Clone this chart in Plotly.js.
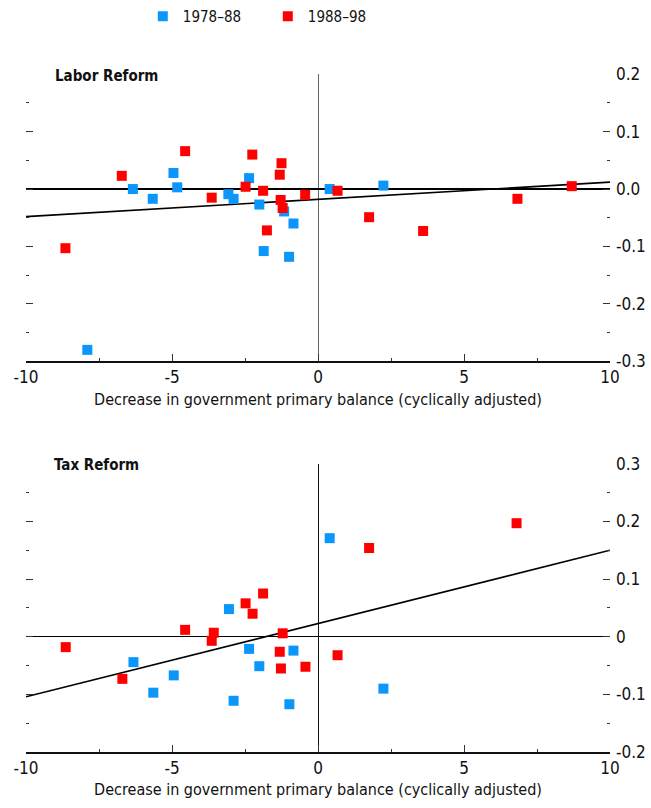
<!DOCTYPE html>
<html>
<head>
<meta charset="utf-8">
<script src="https://cdn.plot.ly/plotly-3.0.1.min.js"></script>
<style>html,body{margin:0;padding:0;background:#fff;}#chart{width:651px;height:808px;}</style>
</head>
<body>
<div id="chart"></div>
<script>
// ---- Data ----
const seriesNames = ["1978–88", "1988–98"];

// Labor Reform panel
const laborBlueX = [-7.90, -6.34, -5.66, -4.95, -4.82, -3.07, -2.89, -2.36, -2.01, -1.16, -0.84, -1.86, -0.99, 0.40, 2.24];
const laborBlueY = [-0.280, 0.000, -0.017, 0.028, 0.003, -0.009, -0.017, 0.019, -0.027, -0.039, -0.060, -0.108, -0.118, 0.000, 0.006];
const laborRedX = [-8.65, -6.72, -4.55, -3.64, -2.25, -2.48, -1.88, -1.25, -1.31, -1.28, -1.21, -1.75, -0.44, 0.67, 1.75, 3.60, 6.83, 8.69];
const laborRedY = [-0.103, 0.023, 0.066, -0.015, 0.060, 0.004, -0.003, 0.045, 0.025, -0.019, -0.033, -0.072, -0.010, -0.003, -0.049, -0.073, -0.017, 0.005];
const laborFitX = [-10, 10];
const laborFitY = [-0.048, 0.012];

// Tax Reform panel
const taxBlueX = [-6.32, -5.64, -4.94, -3.05, -2.89, -2.36, -2.01, -0.84, -0.98, 0.40, 2.24];
const taxBlueY = [-0.044, -0.097, -0.067, 0.048, -0.111, -0.021, -0.051, -0.024, -0.117, 0.171, -0.090];
const taxRedX = [-8.64, -6.70, -4.55, -3.57, -3.64, -2.48, -2.24, -1.88, -1.21, -1.31, -1.27, -0.43, 0.67, 1.75, 6.80];
const taxRedY = [-0.018, -0.073, 0.012, 0.007, -0.007, 0.058, 0.040, 0.075, 0.006, -0.026, -0.055, -0.052, -0.032, 0.154, 0.197];
const taxFitX = [-10, 10];
const taxFitY = [-0.104, 0.150];

// Tick labels
const xTickVals = [-10, -5, 0, 5, 10];
const xTickText = ["-10", "-5", "0", "5", "10"];
const yTopTickVals = [-0.3, -0.2, -0.1, 0, 0.1, 0.2];
const yTopTickText = ["-0.3", "-0.2", "-0.1", "0.0", "0.1", "0.2"];
const yBotTickVals = [-0.2, -0.1, 0, 0.1, 0.2, 0.3];
const yBotTickText = ["-0.2", "-0.1", "0", "0.1", "0.2", "0.3"];

const panelTitles = ["Labor Reform", "Tax Reform"];
const xTitle = "Decrease in government primary balance (cyclically adjusted)";

// ---- Styling ----
const FONT = "'Liberation Sans Narrow', 'Arial Narrow', 'DejaVu Sans Condensed', sans-serif";
const BLUE = "#0A96FA";
const RED = "#FF0000";

function pts(x, y, color, name, xa, ya, show) {
  return {type: "scatter", mode: "markers", x: x, y: y, name: name, xaxis: xa, yaxis: ya,
    showlegend: show, legendgroup: name,
    marker: {symbol: "square", size: 10, color: color, line: {width: 0}}, cliponaxis: false};
}
function fit(x, y, xa, ya) {
  return {type: "scatter", mode: "lines", x: x, y: y, xaxis: xa, yaxis: ya, showlegend: false,
    line: {color: "#000", width: 1.6}, hoverinfo: "skip"};
}

const data = [
  fit(laborFitX, laborFitY, "x", "y"),
  pts(laborBlueX, laborBlueY, BLUE, seriesNames[0], "x", "y", true),
  pts(laborRedX, laborRedY, RED, seriesNames[1], "x", "y", true),
  fit(taxFitX, taxFitY, "x2", "y2"),
  pts(taxBlueX, taxBlueY, BLUE, seriesNames[0], "x2", "y2", false),
  pts(taxRedX, taxRedY, RED, seriesNames[1], "x2", "y2", false)
];

function xAxis(anchor, zcolor) {
  return {
    anchor: anchor, domain: [0, 1], range: [-10, 10],
    tickmode: "array", tickvals: xTickVals, ticktext: xTickText,
    ticks: "inside", ticklen: 7, tickwidth: 1, tickcolor: "#333",
    minor: {dtick: 2.5, tick0: 0, ticks: "inside", ticklen: 3, tickcolor: "#333", showgrid: false},
    showline: true, linecolor: "#111", linewidth: 1.5,
    showgrid: false, zeroline: true, zerolinecolor: zcolor, zerolinewidth: 1,
    tickfont: {family: FONT, size: 17, color: "#111"},
    title: {text: xTitle, font: {family: FONT, size: 16, color: "#111"}, standoff: 7}
  };
}
function yAxis(anchor, domain, range, vals, text, zw) {
  return {
    anchor: anchor, domain: domain, range: range, side: "right",
    tickmode: "array", tickvals: vals, ticktext: text,
    ticks: "inside", ticklen: 7, tickwidth: 1, tickcolor: "#333", mirror: "ticks",
    minor: {dtick: 0.05, tick0: 0, ticks: "inside", ticklen: 3, tickcolor: "#333", showgrid: false},
    showline: false, showgrid: false, ticklabelstandoff: 5,
    zeroline: true, zerolinecolor: "#000", zerolinewidth: zw,
    tickfont: {family: FONT, size: 17, color: "#111"}
  };
}

const layout = {
  width: 651, height: 808,
  margin: {l: 26, r: 41, t: 0, b: 0},
  paper_bgcolor: "#fff", plot_bgcolor: "#fff",
  font: {family: FONT, size: 16, color: "#111"},
  showlegend: true,
  legend: {orientation: "h", x: 0.2, y: 0.981, xanchor: "left", yanchor: "middle",
    font: {family: FONT, size: 15, color: "#111"}, itemwidth: 30, entrywidth: 80,
    bgcolor: "rgba(0,0,0,0)", tracegroupgap: 0},
  xaxis: xAxis("y", "#666"),
  yaxis: yAxis("x", [0.5535, 0.9093], [-0.3, 0.2], yTopTickVals, yTopTickText, 1.8),
  xaxis2: xAxis("y2", "#111"),
  yaxis2: yAxis("x2", [0.0693, 0.4265], [-0.2, 0.3], yBotTickVals, yBotTickText, 1.2),
  annotations: [
    {text: "<b>" + panelTitles[0] + "</b>", xref: "paper", yref: "paper", x: 0.046, y: 0.907,
     xanchor: "left", yanchor: "middle", showarrow: false, font: {family: FONT, size: 15, color: "#111"}},
    {text: "<b>" + panelTitles[1] + "</b>", xref: "paper", yref: "paper", x: 0.0445, y: 0.4245,
     xanchor: "left", yanchor: "middle", showarrow: false, font: {family: FONT, size: 15, color: "#111"}}
  ]
};

Plotly.newPlot("chart", data, layout, {displayModeBar: false, staticPlot: true});
</script>
</body>
</html>
